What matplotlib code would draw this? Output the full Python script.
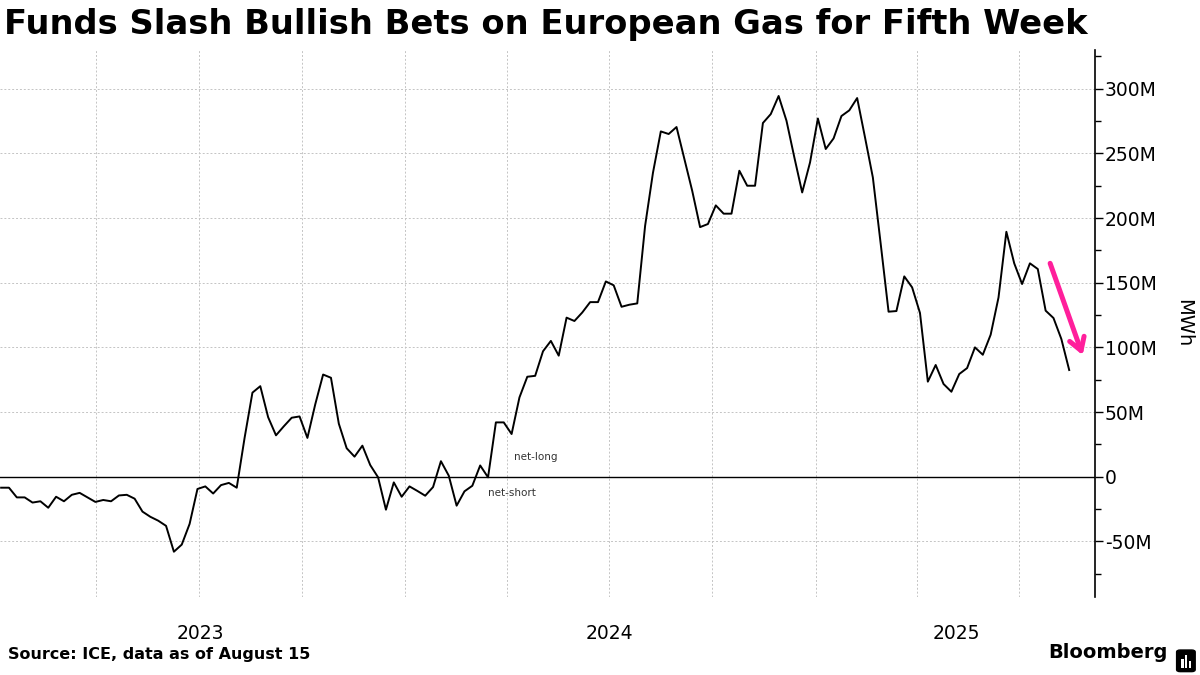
import numpy as np
import pandas as pd
import matplotlib
matplotlib.use("Agg")
from matplotlib import pyplot as plt
import matplotlib.dates as mdates
import matplotlib.transforms as mtransforms
from matplotlib.ticker import FuncFormatter, MultipleLocator
from matplotlib.patches import FancyBboxPatch, Rectangle

# weekly net position of funds in ICE Dutch TTF, million MWh
net_position = [
    -8.5, -8.5, -16, -16, -20, -19, -24, -15.5, -19, -14,
    -12.5, -16, -19.5, -18, -19, -14.5, -14, -17, -27, -31,
    -34, -38, -58, -52.5, -36.5, -9.5, -7.5, -13, -6.5, -4.8,
    -8.5, 30, 65, 70, 46, 32, 39, 45.6, 46.6, 30,
    56, 79, 76.5, 41, 22, 15.5, 24, 9, -0.5, -25.5,
    -4.4, -15.5, -7.5, -11, -14.7, -8, 12, 0.8, -22.4, -11.3,
    -7, 8.7, -0.5, 42, 42, 33, 61.3, 77.3, 78, 97,
    105, 93.6, 123, 120.4, 127, 135, 135, 151, 148, 131.4,
    133, 134, 194, 235, 267, 265, 270.4, 245.6, 221, 193,
    195.4, 209.8, 203.4, 203.4, 236.6, 225, 225, 273.5, 280.4, 294.4,
    275.3, 247, 219.8, 243, 277, 253.4, 261.6, 278.9, 283.3, 292.8,
    262.4, 231.4, 180, 127.6, 128.1, 154.9, 146.4, 126.6, 73.5, 86.4,
    71.7, 65.7, 79.4, 84, 100, 94.3, 109.8, 138.6, 189.4, 165,
    149, 165, 160.6, 128.4, 122.7, 106.5, 82.5,
]
dates = pd.date_range(end="2025-08-15", periods=len(net_position), freq="7D")

year_labels = ["2023", "2024", "2025"]
year_label_dates = ["2023-07-03", "2024-07-01", "2025-05-06"]

plt.rcParams["font.family"] = ["DejaVu Sans"]

fig = plt.figure(figsize=(12, 6.75), dpi=100)
ax = fig.add_axes([0.0, 0.1156, 0.9125, 0.8104])

ax.plot(dates, net_position, color="black", linewidth=1.4, zorder=3)
ax.axhline(0, color="black", linewidth=1.0, zorder=2)

ax.set_xlim(pd.Timestamp("2023-01-05"), pd.Timestamp("2025-09-07"))
ax.set_ylim(-93, 330)

# quarterly grid, year labels centred on each year's visible span
ax.xaxis.set_major_locator(mdates.MonthLocator(bymonth=[1, 4, 7, 10]))
ax.xaxis.set_major_formatter(plt.NullFormatter())
ax.tick_params(axis="x", which="both", length=0)
xtrans = mtransforms.blended_transform_factory(ax.transData, fig.transFigure)
for lab, d in zip(year_labels, year_label_dates):
    ax.text(pd.Timestamp(d), 0.062, lab, transform=xtrans, ha="center", va="center",
            fontsize=13.5, clip_on=False)

ax.yaxis.tick_right()
ax.yaxis.set_label_position("right")
ax.yaxis.set_major_locator(MultipleLocator(50))
ax.yaxis.set_minor_locator(MultipleLocator(25))
ax.yaxis.set_major_formatter(FuncFormatter(lambda v, p: "0" if v == 0 else f"{v:g}M"))
ax.tick_params(axis="y", which="major", length=6, width=1, labelsize=13.5, pad=1)
ax.tick_params(axis="y", which="minor", length=4, width=1)
ax.set_ylabel("MWh", rotation=270, fontsize=14, labelpad=26)

ax.grid(True, which="major", color="#c4c4c4", linestyle=(0, (2, 2)), linewidth=0.7)
for s in ("top", "left", "bottom"):
    ax.spines[s].set_visible(False)
ax.spines["right"].set_linewidth(1.2)

ax.text(pd.Timestamp("2024-04-07"), 15.5, "net-long", fontsize=7.5, color="#333333", va="center")
ax.text(pd.Timestamp("2024-03-15"), -12.5, "net-short", fontsize=7.5, color="#333333", va="center")

ax.annotate("", xy=(pd.Timestamp("2025-08-27"), 94), xytext=(pd.Timestamp("2025-07-29"), 165),
            arrowprops=dict(arrowstyle="->,head_length=0.9,head_width=0.55", color="#ff1f9b",
                            linewidth=3.6, shrinkA=0, shrinkB=0))

fig.text(0.003, 0.963, "Funds Slash Bullish Bets on European Gas for Fifth Week",
         fontsize=24.3, fontweight="bold", va="center", ha="left")
fig.text(0.007, 0.019, "Source: ICE, data as of August 15", fontsize=11.5, fontweight="bold",
         va="bottom", ha="left")
fig.text(0.973, 0.019, "Bloomberg", fontsize=14, fontweight="bold", va="bottom", ha="right")

# small logo box
logo = FancyBboxPatch((0.9815, 0.006), 0.0135, 0.03, boxstyle="round,pad=0.001,rounding_size=0.003",
                      transform=fig.transFigure, facecolor="black", edgecolor="black")
fig.patches.append(logo)
for bx, bh in zip([0.9845, 0.9875, 0.9905], [0.012, 0.018, 0.01]):
    fig.patches.append(Rectangle((bx, 0.011), 0.0018, bh, transform=fig.transFigure,
                                 facecolor="white", edgecolor="none"))

fig.savefig("out.png", dpi=100)
